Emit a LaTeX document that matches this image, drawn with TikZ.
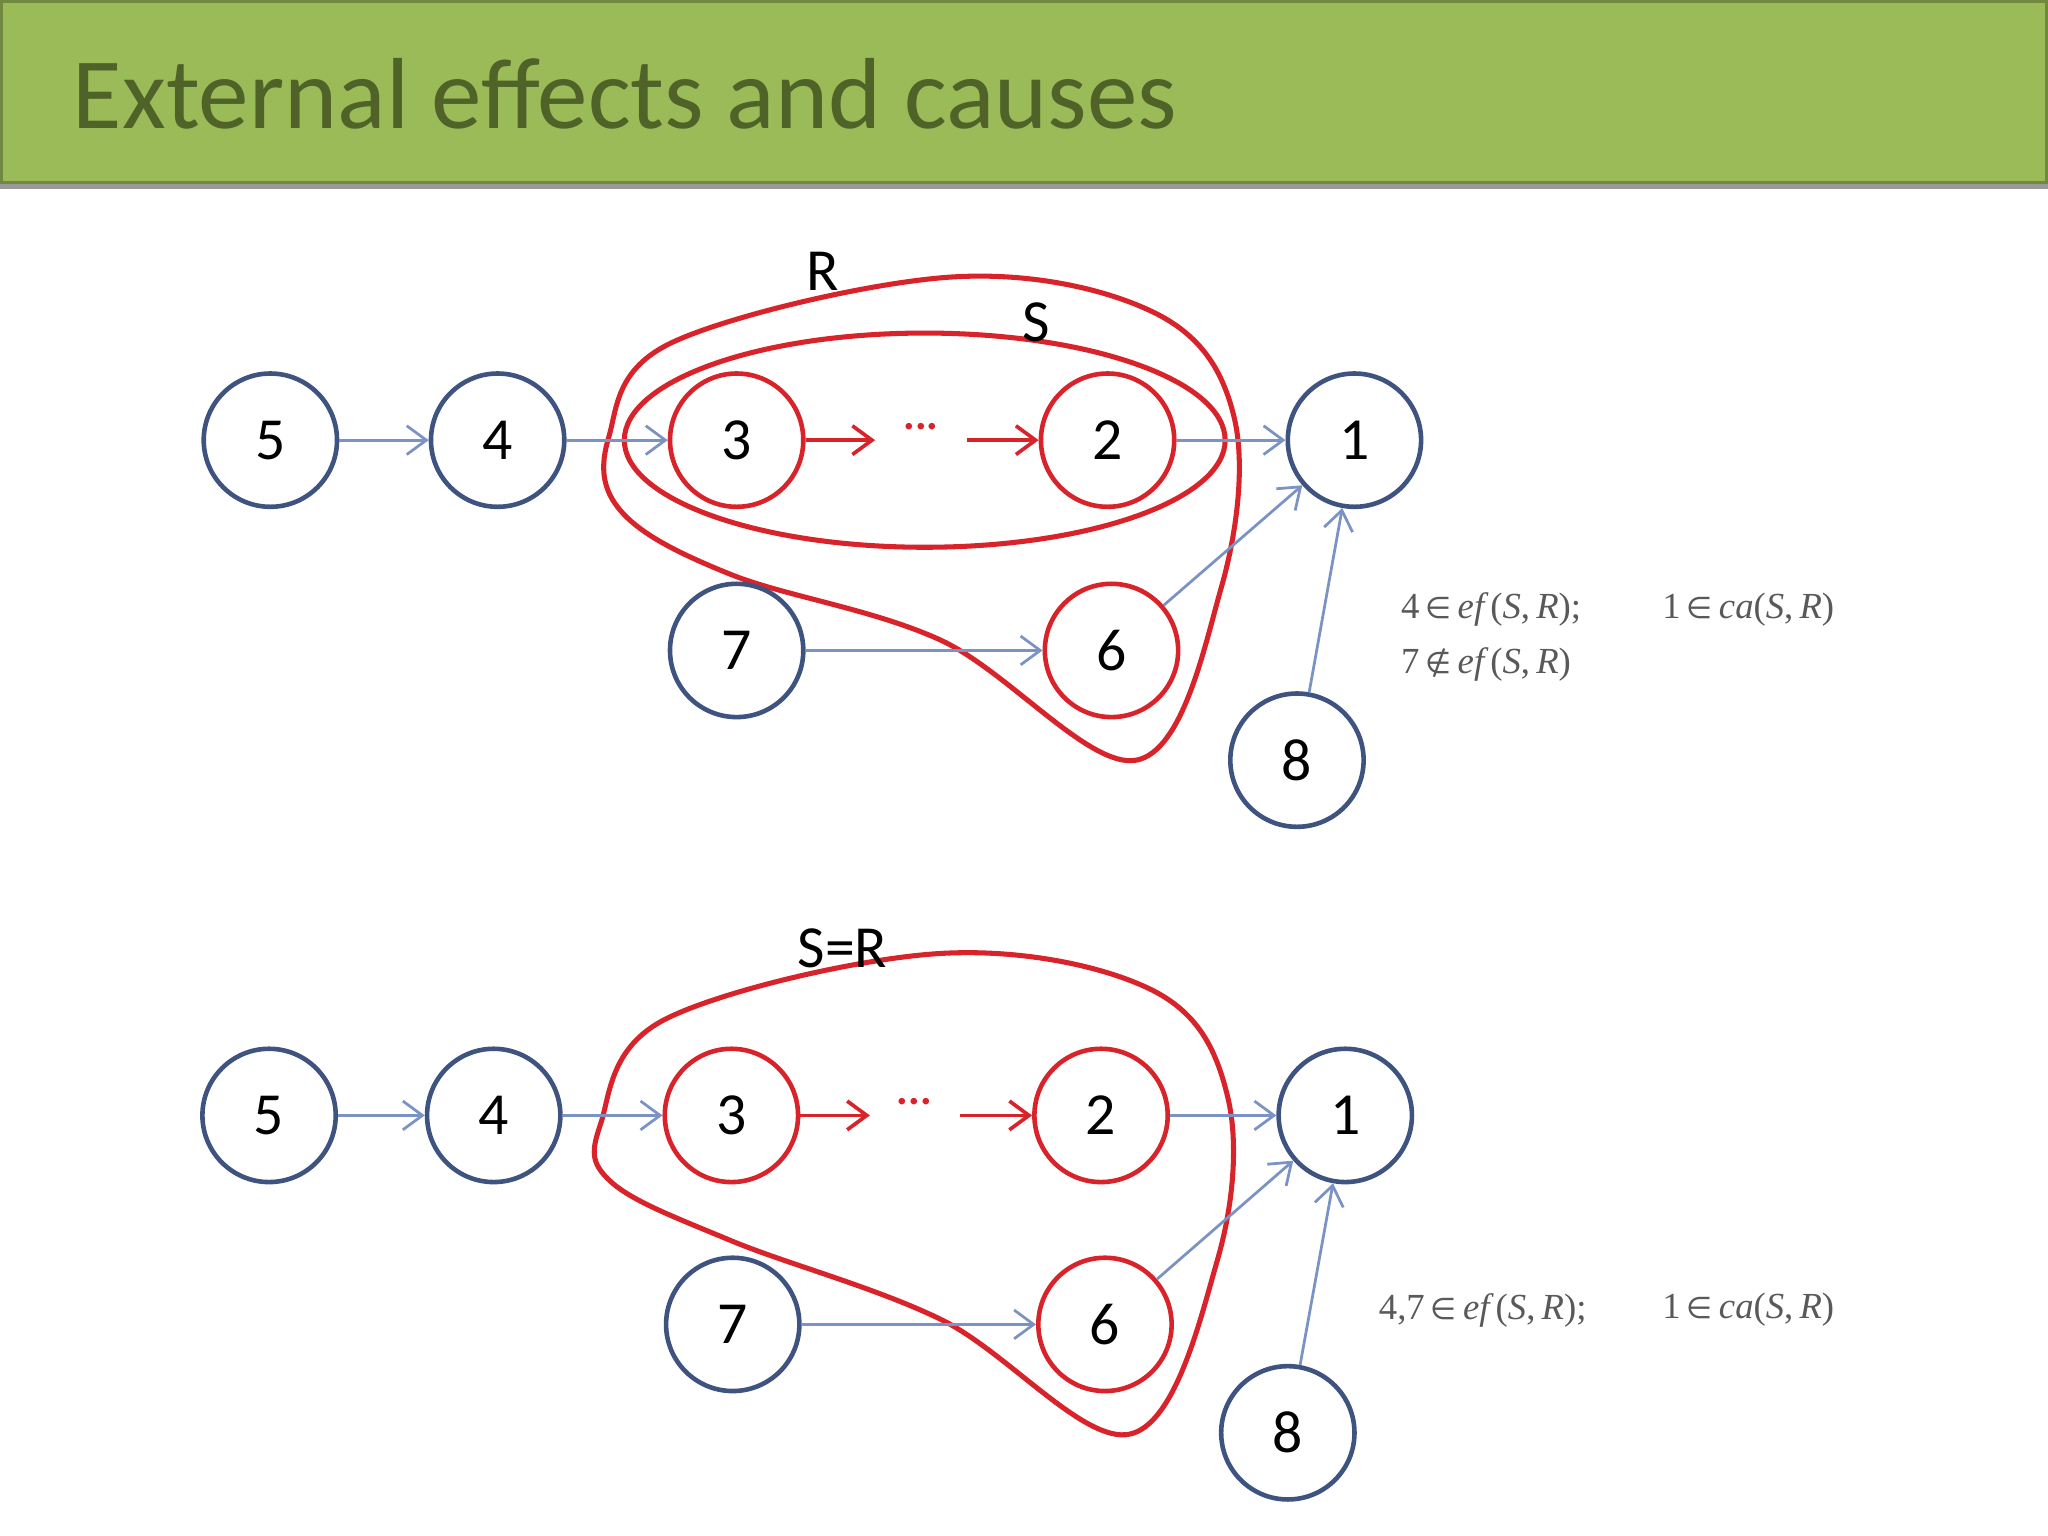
\documentclass[tikz,border=0pt]{standalone}
\usepackage{fontspec}
\setmainfont{Carlito}
\newfontfamily\tms{Liberation Serif}
\newfontfamily\djv{DejaVu Sans}
\newcommand{\myin}{\,{\djv\fontsize{6.5}{8}\selectfont ∈}\,}
\newcommand{\mynotin}{\,{\djv\fontsize{6.5}{8}\selectfont ∉}\,}
\usetikzlibrary{arrows.meta}
\definecolor{hdr}{HTML}{9BBB59}
\definecolor{hdrb}{HTML}{71893F}
\definecolor{ttl}{HTML}{4F6228}
\definecolor{nb}{HTML}{3E5380}
\definecolor{eb}{HTML}{7A93C4}
\definecolor{rd}{HTML}{D9232B}
\tikzset{
 x=0.01cm,y=-0.01cm,
 nd/.style={circle,draw=nb,line width=1pt,minimum size=1.02cm,inner sep=0pt,font=\fontsize{13}{15}\selectfont},
 rnd/.style={nd,draw=rd},
 ed/.style={draw=eb,line width=0.6pt,-{Straight Barb[length=1.5mm,width=2.2mm]}},
 red/.style={draw=rd,line width=0.8pt,-{Straight Barb[length=1.5mm,width=2.2mm]}},
 loop/.style={draw=rd,line width=1.1pt},
 frm/.style={text=black!65,font=\tms\fontsize{8}{10}\selectfont,anchor=west,inner sep=0pt},
 lbl/.style={font=\fontsize{13}{15}\selectfont,inner sep=0pt}
}
\begin{document}
\begin{tikzpicture}
\useasboundingbox (0,0) rectangle (1568,1176);
\fill[white] (0,0) rectangle (1568,1176);
\draw[fill=hdr,draw=hdrb,line width=0.6pt] (1,1) rectangle (1567,140);
\draw[black!40,line width=1pt] (0,143) -- (1568,143);
\node[anchor=west,text=ttl,font=\fontsize{22}{26}\selectfont,inner sep=0pt] (title) at (55,72) {External effects and causes};

% top diagram
\draw[loop] plot[smooth cycle,tension=0.6] coordinates {(466,335) (515,262) (730,212) (885,240) (945,320) (935,450) (870,582) (720,490) (560,440) (476,392)};
\draw[loop] (708,337) ellipse [x radius=230,y radius=82];
\node[lbl] (lR) at (630,208) {R};
\node[lbl] (lS) at (793,247) {S};
\node[nd] (a5) at (207,337) {5};
\node[nd] (a4) at (381,337) {4};
\node[rnd] (a3) at (564,337) {3};
\node[rnd] (a2) at (848,337) {2};
\node[nd] (a1) at (1037,337) {1};
\node[nd] (a7) at (564,498) {7};
\node[rnd] (a6) at (851,498) {6};
\node[nd] (a8) at (993,582) {8};
\node[text=rd,lbl,font=\fontsize{10}{12}\selectfont] (ad) at (705,330) {···};
\coordinate (ad1) at (670,337); \coordinate (ad2) at (740,337);
\draw[ed] (a5) -- (a4); \draw[ed] (a4) -- (a3); \draw[ed] (a2) -- (a1);
\draw[ed] (a7) -- (a6); \draw[ed] (a6) -- (a1); \draw[ed] (a8) -- (a1);
\draw[red] (a3) -- (ad1); \draw[red] (ad2) -- (a2);
\node[frm] (f1) at (1072,467) {4\myin\textit{ef\,}(\textit{S},\,\textit{R});};
\node[frm] (f2) at (1272,467) {1\myin\textit{ca}(\textit{S},\,\textit{R})};
\node[frm] (f3) at (1072,509) {7\mynotin\textit{ef\,}(\textit{S},\,\textit{R})};

% bottom diagram
\draw[loop] plot[smooth cycle,tension=0.6] coordinates {(460,860) (510,780) (720,730) (882,758) (940,840) (932,965) (865,1098) (720,1010) (560,950) (468,905)};
\node[lbl] (lSR) at (645,726) {S=R};
\node[nd] (b5) at (206,854) {5};
\node[nd] (b4) at (378,854) {4};
\node[rnd] (b3) at (560,854) {3};
\node[rnd] (b2) at (843,854) {2};
\node[nd] (b1) at (1030,854) {1};
\node[nd] (b7) at (561,1014) {7};
\node[rnd] (b6) at (846,1014) {6};
\node[nd] (b8) at (986,1097) {8};
\node[text=rd,lbl,font=\fontsize{10}{12}\selectfont] (bd) at (700,847) {···};
\coordinate (bd1) at (666,854); \coordinate (bd2) at (735,854);
\draw[ed] (b5) -- (b4); \draw[ed] (b4) -- (b3); \draw[ed] (b2) -- (b1);
\draw[ed] (b7) -- (b6); \draw[ed] (b6) -- (b1); \draw[ed] (b8) -- (b1);
\draw[red] (b3) -- (bd1); \draw[red] (bd2) -- (b2);
\node[frm] (g1) at (1055,1003) {4,7\myin\textit{ef\,}(\textit{S},\,\textit{R});};
\node[frm] (g2) at (1272,1003) {1\myin\textit{ca}(\textit{S},\,\textit{R})};
\end{tikzpicture}
\end{document}
